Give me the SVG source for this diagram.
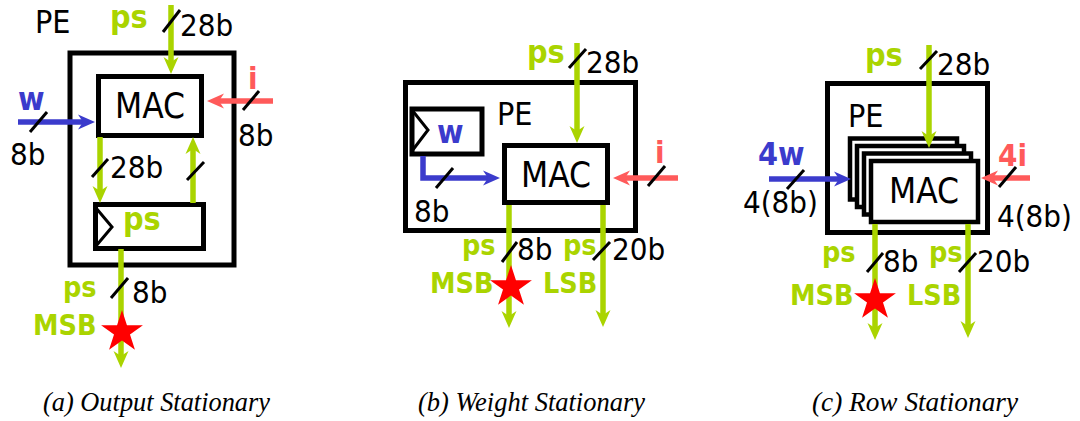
<svg xmlns="http://www.w3.org/2000/svg" width="1080" height="421" viewBox="0 0 1080 421">
<style>
.box{fill:#fff;stroke:#000;stroke-width:5}
.box4{fill:#fff;stroke:#000;stroke-width:4.5}
.chev{fill:none;stroke:#000;stroke-width:3}
.g{stroke:#aad400;stroke-width:5.5;fill:none}
.b{stroke:#3b3bcc;stroke-width:5.5;fill:none}
.r{stroke:#ff5a5a;stroke-width:5.5;fill:none}
.sl{stroke:#000;stroke-width:3}
.t{font-family:"DejaVu Sans Condensed","DejaVu Sans",sans-serif;font-size:31px;fill:#000}
.mac{font-family:"DejaVu Sans Condensed","DejaVu Sans",sans-serif;font-size:35px;fill:#000;text-anchor:middle}
.pe{font-family:"DejaVu Sans Condensed","DejaVu Sans",sans-serif;font-size:32px;fill:#000}
.gt{font-family:"DejaVu Sans Condensed","DejaVu Sans",sans-serif;font-weight:bold;font-size:32px;fill:#aad400}
.gs{font-family:"DejaVu Sans Condensed","DejaVu Sans",sans-serif;font-weight:bold;font-size:28.5px;fill:#aad400}
.bt{font-family:"DejaVu Sans Condensed","DejaVu Sans",sans-serif;font-weight:bold;font-size:32px;fill:#3b3bcc}
.rt{font-family:"DejaVu Sans Condensed","DejaVu Sans",sans-serif;font-weight:bold;font-size:31px;fill:#ff5a5a}
.cap{font-family:"Liberation Serif","Times New Roman",serif;font-style:italic;font-size:28px;fill:#000}
.star{fill:#ff0000}
</style>
<defs>
<marker id="ag" markerUnits="userSpaceOnUse" viewBox="-6 -10 20 20" markerWidth="20" markerHeight="20" refX="0" refY="0" orient="auto" overflow="visible"><path d="M12,0 L-5,-7.5 L0,0 L-5,7.5 Z" fill="#aad400"/></marker>
<marker id="ab" markerUnits="userSpaceOnUse" viewBox="-6 -10 20 20" markerWidth="20" markerHeight="20" refX="0" refY="0" orient="auto" overflow="visible"><path d="M12,0 L-5,-7.5 L0,0 L-5,7.5 Z" fill="#3b3bcc"/></marker>
<marker id="ar" markerUnits="userSpaceOnUse" viewBox="-6 -10 20 20" markerWidth="20" markerHeight="20" refX="0" refY="0" orient="auto" overflow="visible"><path d="M12,0 L-5,-7.5 L0,0 L-5,7.5 Z" fill="#ff5a5a"/></marker>
<path id="starp" d="M0,-22 L4.94,-6.8 L20.92,-6.8 L7.99,2.6 L12.93,17.8 L0,8.4 L-12.93,17.8 L-7.99,2.6 L-20.92,-6.8 L-4.94,-6.8 Z"/>
</defs>

<!-- Panel (a) nodes -->
<g id="a-pe">
<rect class="box" x="70" y="53" width="164" height="212"/>
<text class="pe" x="35" y="33">PE</text>
</g>
<g id="a-mac">
<rect class="box" x="98.5" y="76.5" width="103" height="59"/>
<text class="mac" x="150" y="118">MAC</text>
</g>
<g id="a-psreg">
<rect class="box" x="95.5" y="204.5" width="108" height="44"/>
<polyline class="chev" points="96,208 112,227 96,246"/>
<text class="gt" x="123" y="230">ps</text>
</g>

<!-- Panel (b) nodes -->
<g id="b-pe">
<rect class="box" x="405.5" y="82.5" width="230" height="148"/>
<text class="pe" x="497" y="125">PE</text>
</g>
<g id="b-wreg">
<rect class="box" x="412" y="109" width="70" height="45"/>
<polyline class="chev" points="412,110 428,130 412,151"/>
<text class="bt" x="437" y="143">w</text>
</g>
<g id="b-mac">
<rect class="box" x="504.5" y="145.5" width="103" height="57"/>
<text class="mac" x="556" y="187">MAC</text>
</g>

<!-- Panel (c) nodes -->
<g id="c-pe">
<rect class="box" x="827.5" y="83.5" width="160" height="149"/>
<text class="pe" x="848" y="127">PE</text>
</g>
<g id="c-mac">
<rect class="box4" x="850" y="138.5" width="107" height="61"/>
<rect class="box4" x="857" y="146" width="107" height="61"/>
<rect class="box4" x="864" y="153.5" width="107" height="61"/>
<rect class="box4" x="871" y="161" width="107" height="61"/>
<text class="mac" x="924" y="203">MAC</text>
</g>

<!-- Connectors -->
<g id="connectors">
<!-- (a) -->
<line class="g" x1="171" y1="5" x2="171" y2="62" marker-end="url(#ag)"/>
<line class="b" x1="18" y1="122" x2="83" y2="122" marker-end="url(#ab)"/>
<line class="r" x1="273" y1="101" x2="219" y2="101" marker-end="url(#ar)"/>
<line class="g" x1="100" y1="137" x2="100" y2="191" marker-end="url(#ag)"/>
<line class="g" x1="193" y1="203" x2="193" y2="149" marker-end="url(#ag)"/>
<line class="g" x1="121" y1="249" x2="121" y2="356" marker-end="url(#ag)"/>
<!-- (b) -->
<line class="g" x1="577" y1="43" x2="577" y2="131" marker-end="url(#ag)"/>
<path class="b" d="M423,156 V178 H488" marker-end="url(#ab)"/>
<line class="r" x1="678" y1="178" x2="625" y2="178" marker-end="url(#ar)"/>
<line class="g" x1="509" y1="205" x2="509" y2="316" marker-end="url(#ag)"/>
<line class="g" x1="603" y1="205" x2="603" y2="315" marker-end="url(#ag)"/>
<!-- (c) -->
<line class="g" x1="929" y1="45" x2="929" y2="136" marker-end="url(#ag)"/>
<line class="b" x1="769" y1="179" x2="839" y2="179" marker-end="url(#ab)"/>
<line class="r" x1="1030" y1="178" x2="993" y2="178" marker-end="url(#ar)"/>
<line class="g" x1="875" y1="224" x2="875" y2="328" marker-end="url(#ag)"/>
<line class="g" x1="968" y1="224" x2="968" y2="326" marker-end="url(#ag)"/>
<!-- bus-width slashes -->
<line class="sl" x1="163" y1="32" x2="180" y2="10"/>
<line class="sl" x1="30" y1="132" x2="47" y2="112"/>
<line class="sl" x1="243" y1="110" x2="259" y2="91"/>
<line class="sl" x1="92" y1="177" x2="108" y2="159"/>
<line class="sl" x1="187" y1="180" x2="204" y2="162"/>
<line class="sl" x1="111" y1="298" x2="128" y2="278"/>
<line class="sl" x1="569" y1="68" x2="586" y2="49"/>
<line class="sl" x1="436" y1="188" x2="453" y2="168"/>
<line class="sl" x1="648" y1="186" x2="665" y2="166"/>
<line class="sl" x1="502" y1="262" x2="517" y2="242"/>
<line class="sl" x1="593" y1="260" x2="610" y2="242"/>
<line class="sl" x1="920" y1="69" x2="937" y2="51"/>
<line class="sl" x1="787" y1="189" x2="804" y2="170"/>
<line class="sl" x1="999" y1="187" x2="1016" y2="167"/>
<line class="sl" x1="867" y1="272" x2="883" y2="253"/>
<line class="sl" x1="959" y1="272" x2="976" y2="253"/>
</g>

<!-- Stars -->
<use href="#starp" class="star" transform="translate(122,332)"/>
<use href="#starp" class="star" transform="translate(511,287)"/>
<use href="#starp" class="star" transform="translate(875,300)"/>

<!-- Labels (a) -->
<g id="a-labels">
<text class="gt" x="110" y="28">ps</text>
<text class="t" x="180" y="36">28b</text>
<text class="bt" x="18" y="110">w</text>
<text class="t" x="10" y="165">8b</text>
<text class="rt" x="248" y="89">i</text>
<text class="t" x="238" y="146">8b</text>
<text class="t" x="110" y="178">28b</text>
<text class="gs" x="63" y="297">ps</text>
<text class="t" x="132" y="303">8b</text>
<text class="gs" x="33" y="335">MSB</text>
</g>
<!-- Labels (b) -->
<g id="b-labels">
<text class="gt" x="527" y="63">ps</text>
<text class="t" x="586" y="73">28b</text>
<text class="rt" x="655" y="163">i</text>
<text class="t" x="414" y="222">8b</text>
<text class="gs" x="462" y="255">ps</text>
<text class="t" x="517" y="260">8b</text>
<text class="gs" x="563" y="255">ps</text>
<text class="t" x="612" y="260">20b</text>
<text class="gs" x="430" y="293">MSB</text>
<text class="gs" x="543" y="293">LSB</text>
</g>
<!-- Labels (c) -->
<g id="c-labels">
<text class="gt" x="865" y="66">ps</text>
<text class="t" x="937" y="75">28b</text>
<text class="bt" x="758" y="165">4w</text>
<text class="t" x="743" y="213">4(8b)</text>
<text class="rt" x="998" y="166">4i</text>
<text class="t" x="997" y="227">4(8b)</text>
<text class="gs" x="822" y="262">ps</text>
<text class="t" x="883" y="272">8b</text>
<text class="gs" x="929" y="262">ps</text>
<text class="t" x="977" y="272">20b</text>
<text class="gs" x="790" y="305">MSB</text>
<text class="gs" x="907" y="305">LSB</text>
</g>

<!-- Captions -->
<text class="cap" x="43" y="411" textLength="227" lengthAdjust="spacingAndGlyphs">(a) Output Stationary</text>
<text class="cap" x="418" y="411" textLength="227" lengthAdjust="spacingAndGlyphs">(b) Weight Stationary</text>
<text class="cap" x="812" y="411" textLength="206" lengthAdjust="spacingAndGlyphs">(c) Row Stationary</text>
</svg>
